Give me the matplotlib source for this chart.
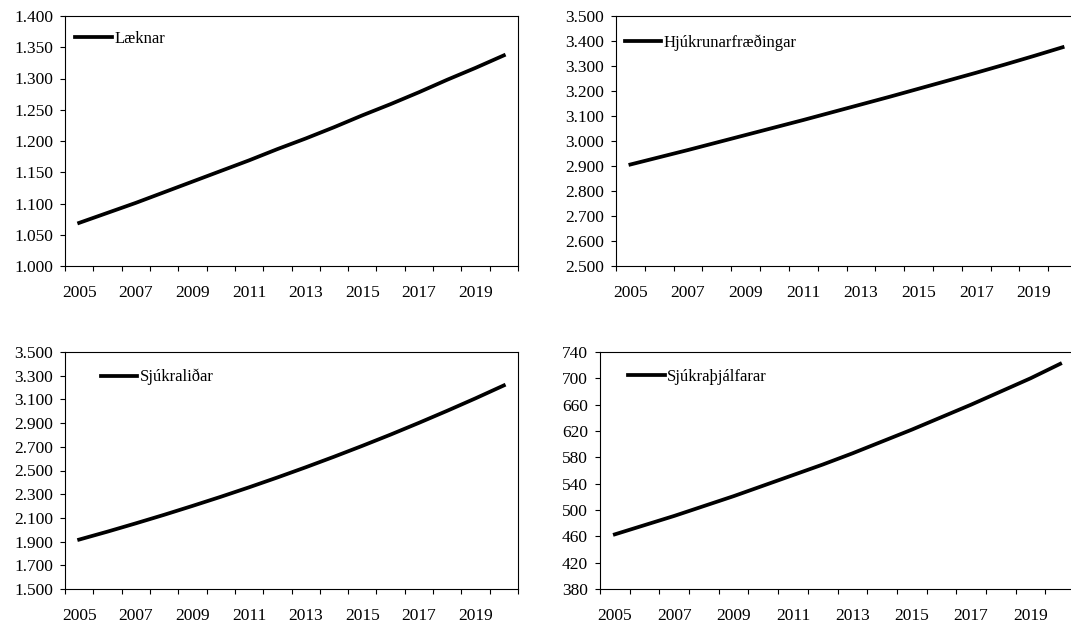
import matplotlib
matplotlib.use("Agg")
import matplotlib.pyplot as plt
import numpy as np
from matplotlib.ticker import FuncFormatter, FixedLocator

plt.rcParams['font.family'] = ['Liberation Serif', 'DejaVu Serif']

years = list(range(2005, 2021))

laeknar = [1069, 1085, 1101, 1118, 1135, 1152, 1169, 1187,
           1204, 1222, 1241, 1259, 1278, 1298, 1317, 1337]
hjukrunar = [2906, 2935, 2964, 2994, 3024, 3054, 3084, 3115,
             3146, 3177, 3209, 3241, 3273, 3306, 3340, 3375]
sjukralidar = [1917, 1984, 2054, 2126, 2201, 2278, 2358, 2441,
               2527, 2616, 2708, 2803, 2902, 3004, 3109, 3218]
sjukrathjalf = [463, 477, 491, 506, 521, 537, 553, 569,
                586, 604, 622, 641, 660, 680, 700, 722]

W, H = 1071, 626

# name, values, y range, y step, axes box in pixels (left, right, top, bottom), legend anchor
panels = [
    ("Læknar", laeknar, (1000, 1400), 50, (65, 518, 16, 266), (0.022, 0.909)),
    ("Hjúkrunarfræðingar", hjukrunar, (2500, 3500), 100, (616, 1077, 16, 266), (0.019, 0.894)),
    ("Sjúkraliðar", sjukralidar, (1500, 3500), 200, (65, 518, 352, 589), (0.079, 0.894)),
    ("Sjúkraþjálfarar", sjukrathjalf, (380, 740), 40, (600, 1075, 352, 589), (0.059, 0.895)),
]

FS = 12.5

fig = plt.figure(figsize=(W / 100, H / 100), dpi=100)

def thousands(v, pos):
    return "{:,.0f}".format(v).replace(",", ".")

for name, vals, ylim, step, box, leg in panels:
    l, r, t, b = box
    ax = fig.add_axes([l / W, 1 - b / H, (r - l) / W, (b - t) / H])
    x = np.arange(len(years))
    ax.plot(x, vals, color="black", lw=2.7, label=name)

    ax.set_xlim(-0.5, len(years) - 0.5)
    ax.set_ylim(*ylim)
    ax.yaxis.set_major_locator(FixedLocator(np.arange(ylim[0], ylim[1] + step / 2, step)))
    ax.yaxis.set_major_formatter(FuncFormatter(thousands))

    # tick marks between categories, labels on every other year
    ax.xaxis.set_major_locator(FixedLocator(np.arange(-0.5, len(years), 1.0)))
    ax.xaxis.set_major_formatter(FuncFormatter(lambda v, p: ""))
    ax.xaxis.set_minor_locator(FixedLocator(x[::2]))
    ax.xaxis.set_minor_formatter(FuncFormatter(lambda v, p: str(years[int(round(v))])))
    ax.tick_params(axis="x", which="major", direction="out", length=3.6, width=0.8)
    ax.tick_params(axis="x", which="minor", length=0, pad=14, labelsize=FS)
    ax.tick_params(axis="y", direction="out", length=3.6, width=0.8, pad=5, labelsize=FS)

    for s in ax.spines.values():
        s.set_linewidth(0.8)
        s.set_color("black")

    ax.legend(loc="center left", bbox_to_anchor=leg, frameon=False,
              handlelength=2.2, handletextpad=0.15, borderpad=0, borderaxespad=0,
              fontsize=FS - 0.5)

fig.savefig("out.png", dpi=100)
